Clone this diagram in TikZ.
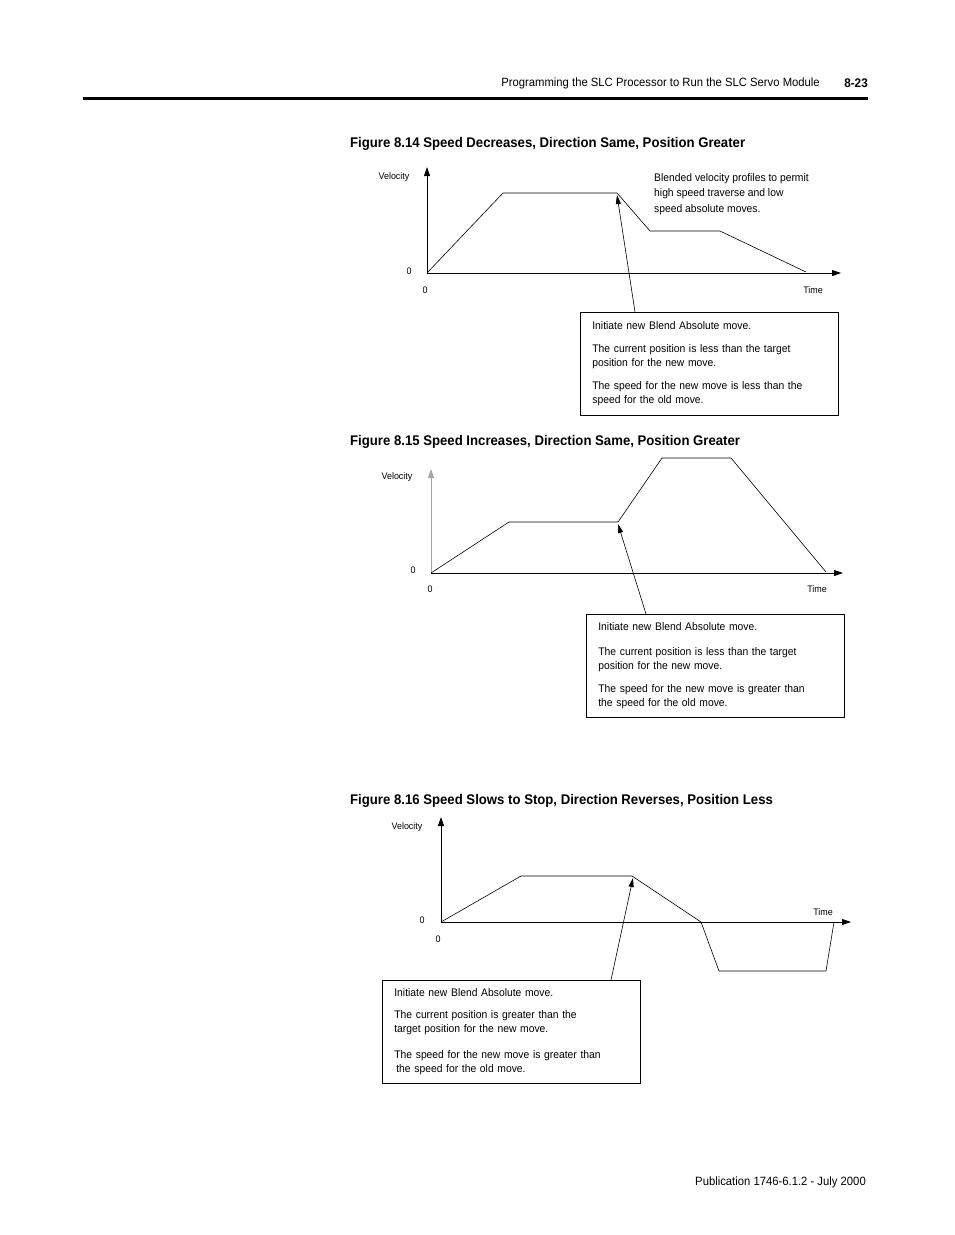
\documentclass[tikz,border=0pt]{standalone}
\usepackage{fontspec}
\setmainfont{Liberation Sans}[FakeStretch=0.94]
\usetikzlibrary{arrows.meta, positioning}

\begin{document}
\begin{tikzpicture}[x=1pt, y=-1pt,
  axis/.style={-{Triangle[length=9pt, width=6pt]}, line width=0.8pt},
  profile/.style={line width=0.6pt},
  pointer/.style={-{Triangle[length=9pt, width=5pt]}, line width=0.6pt},
  lbl/.style={font=\fontsize{9.5}{10}\selectfont, inner sep=0pt},
  caption/.style={font=\bfseries\fontsize{14}{16}\selectfont, anchor=west, inner sep=0pt},
  callout/.style={draw, line width=0.7pt, anchor=north west, text width=234pt, inner xsep=12pt,
    minimum height=103pt, align=left, font=\fontsize{11}{14}\selectfont}]
  \useasboundingbox (0,0) rectangle (954,1235);

  % header and footer
  \node[anchor=east, inner sep=0pt, font=\fontsize{12}{15}\selectfont] (head) at (820,83) {Programming the SLC Processor to Run the SLC Servo Module};
  \node[anchor=east, inner sep=0pt, font=\bfseries\fontsize{12.5}{15}\selectfont] (page) at (868,83) {8-23};
  \draw[line width=3pt] (83,98) -- (868,98);
  \node[anchor=east, inner sep=0pt, font=\fontsize{12}{14}\selectfont] (foot) at (866,1182) {Publication 1746-6.1.2 - July 2000};

  % Figure 8.14
  \node[caption] (cap14) at (350,144) {Figure 8.14 Speed Decreases, Direction Same, Position Greater};
  \coordinate (o14) at (427,273);
  \draw[axis] (o14) -- (427,167);
  \draw[axis] (o14) -- (841,273);
  \draw[profile] (o14) -- (503,193) -- (617,193) -- (650,231) -- (720,231) -- (806,272);
  \node[lbl] (vel14) at (394,177) {Velocity};
  \node[lbl] (vz14) at (409,271) {0};
  \node[lbl] (tz14) at (425,290) {0};
  \node[lbl] (time14) at (813,290) {Time};
  \node[anchor=north west, inner sep=0pt, align=left, font=\fontsize{11}{15.5}\selectfont] (blend14) at (654,173)
    {Blended velocity profiles to permit\\high speed traverse and low\\speed absolute moves.};
  \node[callout] (note14) at (580,312) {Initiate new Blend Absolute move.\\[9pt]
    The current position is less than the target\\position for the new move.\\[9pt]
    The speed for the new move is less than the\\speed for the old move.};
  \coordinate (p14) at (635,312);
  \coordinate (t14) at (617,195);
  \draw[pointer] (p14) -- (t14);

  % Figure 8.15
  \node[caption] (cap15) at (350,442) {Figure 8.15 Speed Increases, Direction Same, Position Greater};
  \coordinate (o15) at (431,573);
  \draw[axis, draw=gray!70, fill=black] (o15) -- (431,469);
  \draw[axis] (o15) -- (843,573);
  \draw[profile] (o15) -- (509,522) -- (618,522) -- (662,458) -- (731,458) -- (826,572);
  \node[lbl] (vel15) at (397,477) {Velocity};
  \node[lbl] (vz15) at (413,570) {0};
  \node[lbl] (tz15) at (430,589) {0};
  \node[lbl] (time15) at (817,589) {Time};
  \node[callout] (note15) at (586,614) {Initiate new Blend Absolute move.\\[11pt]
    The current position is less than the target\\position for the new move.\\[9pt]
    The speed for the new move is greater than\\the speed for the old move.};
  \coordinate (p15) at (646,614);
  \coordinate (t15) at (618,524);
  \draw[pointer] (p15) -- (t15);

  % Figure 8.16
  \node[caption] (cap16) at (350,801) {Figure 8.16 Speed Slows to Stop, Direction Reverses, Position Less};
  \coordinate (o16) at (441,922);
  \draw[axis] (o16) -- (441,817);
  \draw[axis] (o16) -- (851,922);
  \draw[profile] (o16) -- (521,876) -- (632,876) -- (701,922) -- (719,971) -- (826,971) -- (834,922);
  \node[lbl] (vel16) at (407,827) {Velocity};
  \node[lbl] (vz16) at (422,920) {0};
  \node[lbl] (tz16) at (438,939) {0};
  \node[lbl] (time16) at (823,912) {Time};
  \node[callout] (note16) at (382,980) {Initiate new Blend Absolute move.\\[8pt]
    The current position is greater than the\\target position for the new move.\\[12pt]
    The speed for the new move is greater than\\\hspace*{2pt}the speed for the old move.};
  \coordinate (p16) at (611,980);
  \coordinate (t16) at (633,878);
  \draw[pointer] (p16) -- (t16);
\end{tikzpicture}
\end{document}
